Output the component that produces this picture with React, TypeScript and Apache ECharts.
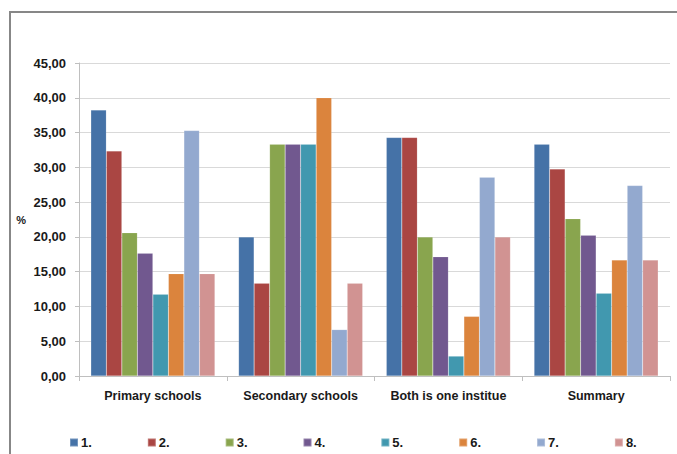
import React, { useEffect, useRef } from "react";
import * as echarts from "echarts";

const categories = ["Primary schools", "Secondary schools", "Both is one institue", "Summary"];
const seriesNames = ["1.", "2.", "3.", "4.", "5.", "6.", "7.", "8."];
const s1 = [38.24, 20.0, 34.29, 33.33];
const s2 = [32.35, 13.33, 34.29, 29.76];
const s3 = [20.59, 33.33, 20.0, 22.62];
const s4 = [17.65, 33.33, 17.14, 20.24];
const s5 = [11.76, 33.33, 2.86, 11.9];
const s6 = [14.71, 40.0, 8.57, 16.67];
const s7 = [35.29, 6.67, 28.57, 27.38];
const s8 = [14.71, 13.33, 20.0, 16.67];
const seriesValues = [s1, s2, s3, s4, s5, s6, s7, s8];
const colors = ["#4572A7", "#AA4643", "#89A54E", "#71588F", "#4198AF", "#DB843D", "#93A9CF", "#D19392"];

const FONT = "Liberation Sans";

export default function App() {
  const ref = useRef<HTMLDivElement>(null);
  useEffect(() => {
    if (!ref.current) return;
    const chart = echarts.init(ref.current, undefined, { renderer: "svg" });
    chart.setOption({
      animation: false,
      color: colors,
      textStyle: { fontFamily: FONT },
      graphic: [
        {
          type: "rect",
          shape: { x: 10, y: 12, width: 720, height: 500 },
          style: { fill: "none", stroke: "#878787", lineWidth: 2 },
          silent: true,
        },
      ],
      grid: { left: 79, right: 7, top: 63, bottom: 78, containLabel: false },
      legend: {
        data: seriesNames,
        left: 64,
        top: 431,
        icon: "rect",
        itemWidth: 8,
        itemHeight: 8,
        itemGap: 55,
        textStyle: { fontFamily: FONT, fontWeight: "bold", fontSize: 13, color: "#1a1a1a", padding: [0, 0, 0, -2] },
      },
      xAxis: {
        type: "category",
        data: categories,
        axisLine: { lineStyle: { color: "#bfbfbf", width: 1 } },
        axisTick: { show: true, interval: 0, length: 5, lineStyle: { color: "#bfbfbf" } },
        axisLabel: { interval: 0, fontFamily: FONT, fontWeight: "bold", fontSize: 12.5, color: "#1a1a1a", margin: 13 },
        splitLine: { show: false },
      },
      yAxis: {
        type: "value",
        min: 0,
        max: 45,
        interval: 5,
        name: "%",
        nameLocation: "middle",
        nameRotate: 0,
        nameGap: 53,
        nameTextStyle: { fontFamily: FONT, fontWeight: "bold", fontSize: 11, color: "#1a1a1a" },
        axisLine: { show: true, lineStyle: { color: "#bfbfbf", width: 1 } },
        axisTick: { show: true, length: 4, lineStyle: { color: "#bfbfbf" } },
        axisLabel: {
          fontFamily: FONT,
          fontWeight: "bold",
          fontSize: 13,
          color: "#1a1a1a",
          margin: 13,
          formatter: (v: number) => v.toFixed(2).replace(".", ","),
        },
        splitLine: { show: true, lineStyle: { color: "#d9d9d9", width: 1 } },
      },
      series: seriesNames.map((name, i) => ({
        name,
        type: "bar",
        data: seriesValues[i],
        barGap: "0%",
        barCategoryGap: "16%",
        itemStyle: { color: colors[i], borderColor: "rgba(255,255,255,0.25)", borderWidth: 0.5 },
      })),
    });
    return () => chart.dispose();
  }, []);
  return (
    <div
      ref={ref}
      style={{ position: "fixed", left: 0, top: 0, width: 677, height: 454, background: "#fff" }}
    />
  );
}
